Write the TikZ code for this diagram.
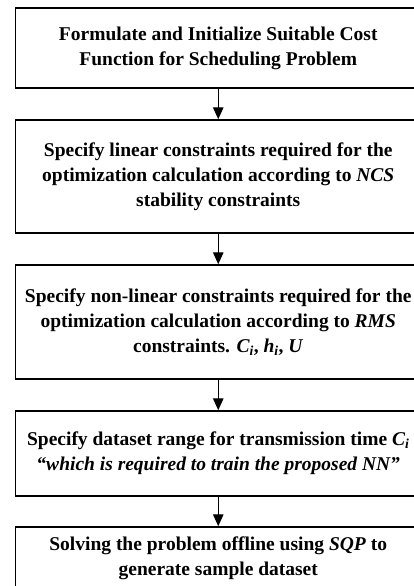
\documentclass[tikz,border=0pt]{standalone}
\usepackage{fontspec}
\setmainfont{Liberation Serif}
\usetikzlibrary{arrows.meta}
\begin{document}
\begin{tikzpicture}[x=1pt,y=-1pt,
  stepbox/.style={draw, line width=1.5pt, minimum width=405.5pt, inner sep=0pt, align=center,
    font=\fontsize{19.5}{25}\selectfont\bfseries},
  flow/.style={line width=1.3pt, -{Triangle[length=12pt,width=10.5pt]}}]
\useasboundingbox (0,0) rectangle (414,586);
\clip (0,0) rectangle (414,586);
\node[stepbox, minimum height=80pt] (b1) at (218.25,48)
  {Formulate and Initialize Suitable Cost\\Function for Scheduling Problem};
\node[stepbox, minimum height=113pt] (b2) at (218.25,176.5)
  {Specify linear constraints required for the\\optimization calculation according to \textit{NCS}\\stability constraints};
\node[stepbox, minimum height=114pt] (b3) at (218.25,322)
  {Specify non-linear constraints required for the\\optimization calculation according to \textit{RMS}\\constraints. \textit{C\textsubscript{i}}, \textit{h\textsubscript{i}}, \textit{U}};
\node[stepbox, minimum height=85pt] (b4) at (218.25,453.5)
  {Specify dataset range for transmission time \textit{C\textsubscript{i}}\\\textit{“which is required to train the proposed NN”}};
\node[stepbox, minimum height=62pt] (b5) at (218.25,558)
  {Solving the problem offline using \textit{SQP} to\\generate sample dataset};
\draw[flow] (b1) -- (b2);
\draw[flow] (b2) -- (b3);
\draw[flow] (b3) -- (b4);
\draw[flow] (b4) -- (b5);
\end{tikzpicture}
\end{document}
